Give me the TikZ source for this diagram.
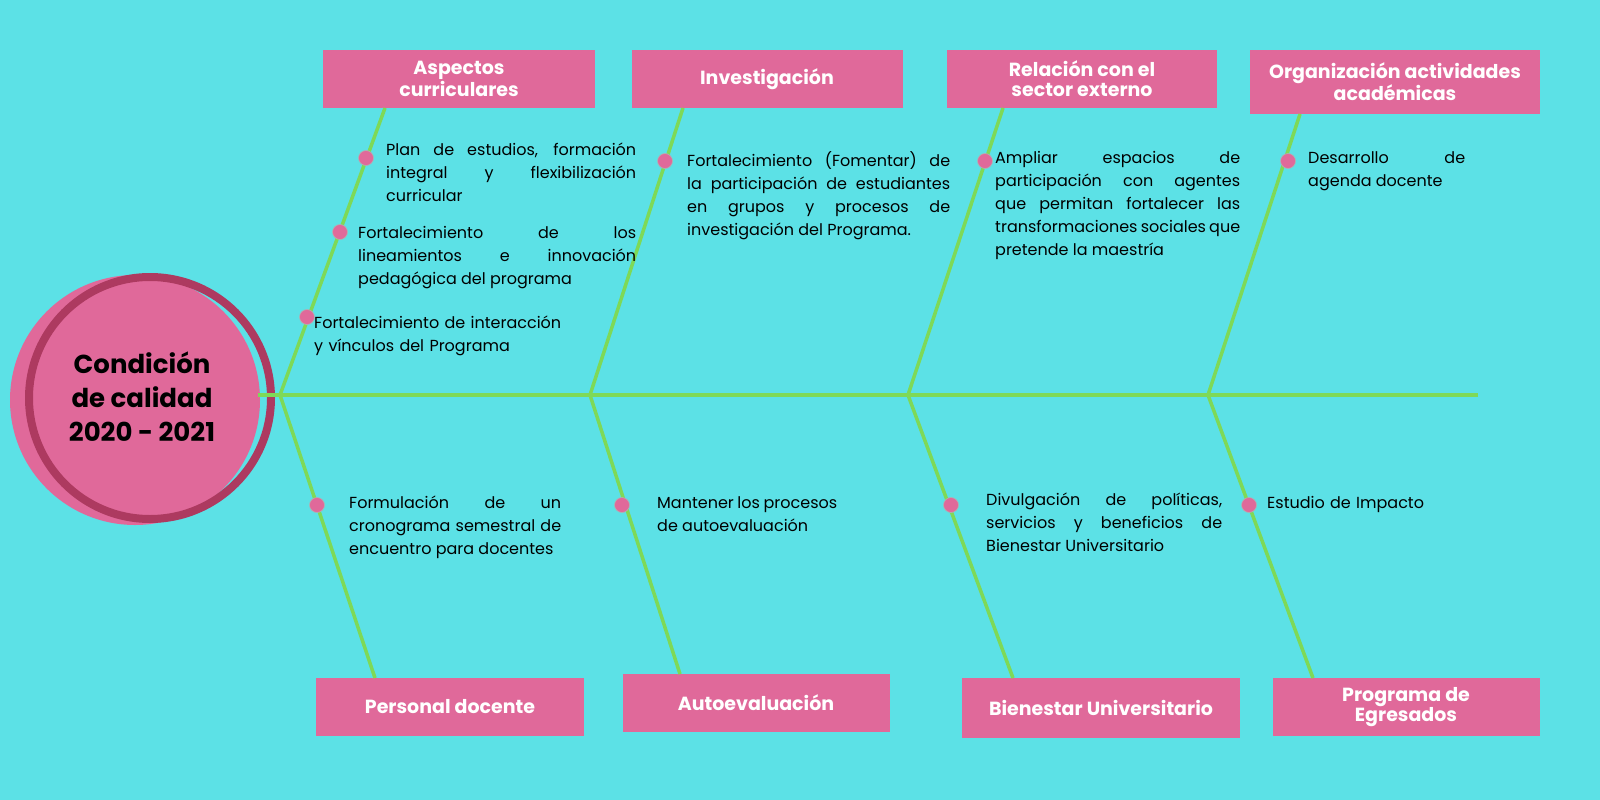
\documentclass[tikz,border=0pt]{standalone}
\usepackage{fontspec}
\setmainfont{Poppins}
\hyphenpenalty=10000 \exhyphenpenalty=10000
\definecolor{bg}{HTML}{5CE1E6}
\definecolor{pk}{HTML}{E0699A}
\definecolor{dpk}{HTML}{AD3A60}
\definecolor{gr}{HTML}{7ED957}
\begin{document}
\begin{tikzpicture}[x=1pt,y=-1pt,
 box/.style={fill=pk,text=white,font=\bfseries\fontsize{19}{20}\selectfont,align=center,inner sep=0},
 txt/.style={anchor=north west,align=justify,font=\fontsize{16}{23}\selectfont,inner sep=0},
 bone/.style={gr,line width=3.5pt},
 dot/.style={circle,fill=pk,draw=gray!60,line width=0.6pt,minimum size=15pt,inner sep=0}]
\fill[bg] (0,0) rectangle (1600,800);
\useasboundingbox (0,0) rectangle (1600,800);
\fill[pk] (135,400) circle (125);
\draw[dpk,line width=8pt] (150,398) circle (121);
\node[font=\bfseries\fontsize{26}{34}\selectfont,align=center] (c) at (142,397) {Condición\\de calidad\\2020 - 2021};
\coordinate (s0) at (258,395); \coordinate (s1) at (1478,395);
\coordinate (j1) at (280,395); \coordinate (j2) at (590,395); \coordinate (j3) at (908,395); \coordinate (j4) at (1208,395);
\draw[bone] (s0) -- (s1);
\node[box,minimum width=272,minimum height=58] (t1) at (459,79) {Aspectos\\curriculares};
\node[box,minimum width=271,minimum height=58] (t2) at (767,79) {Investigación};
\node[box,minimum width=270,minimum height=58] (t3) at (1082,79) {Relación con el\\sector externo};
\node[box,minimum width=290,minimum height=64] (t4) at (1395,82) {Organización actividades\\académicas};
\node[box,minimum width=268,minimum height=58] (b1) at (450,707) {Personal docente};
\node[box,minimum width=267,minimum height=58] (b2) at (756,703) {Autoevaluación};
\node[box,minimum width=278,minimum height=60] (b3) at (1101,708) {Bienestar Universitario};
\node[box,minimum width=267,minimum height=58] (b4) at (1406,707) {Programa de\\Egresados};
\draw[bone] (j1) -- (385,108); \draw[bone] (j2) -- (683,108); \draw[bone] (j3) -- (1003,108); \draw[bone] (j4) -- (1300,114);
\draw[bone] (j1) -- (375,678); \draw[bone] (j2) -- (680,674); \draw[bone] (j3) -- (1013,678); \draw[bone] (j4) -- (1313,678);
\foreach \p in {(366,158),(340,232),(307,317),(665,161),(985,161),(1288,161),(317,505),(622,505),(951,505),(1249,505)}
  \node[dot] at \p {};
\node[txt,text width=250] (x1) at (386,143) {Plan de estudios, formación integral y flexibilización curricular};
\node[txt,text width=278] (x2) at (358,226) {Fortalecimiento de los lineamientos e innovación pedagógica del programa};
\node[txt,text width=290,align=left] (x3) at (314,316) {Fortalecimiento de interacción\\y vínculos del Programa};
\node[txt,text width=263] (x4) at (687,151) {Fortalecimiento (Fomentar) de la participación de estudiantes en grupos y procesos de investigación del Programa.};
\node[txt,text width=245] (x5) at (995,151) {Ampliar espacios de participación con agentes que permitan fortalecer las transformaciones sociales que pretende la maestría};
\node[txt,text width=157] (x6) at (1308,151) {Desarrollo de agenda docente};
\node[txt,text width=212] (x7) at (349,496) {Formulación de un cronograma semestral de encuentro para docentes};
\node[txt,text width=180] (x8) at (657,496) {Mantener los procesos de autoevaluación};
\node[txt,text width=236] (x9) at (986,493) {Divulgación de políticas, servicios y beneficios de Bienestar Universitario};
\node[txt,text width=200,align=left] (x10) at (1267,496) {Estudio de Impacto};
\end{tikzpicture}
\end{document}
